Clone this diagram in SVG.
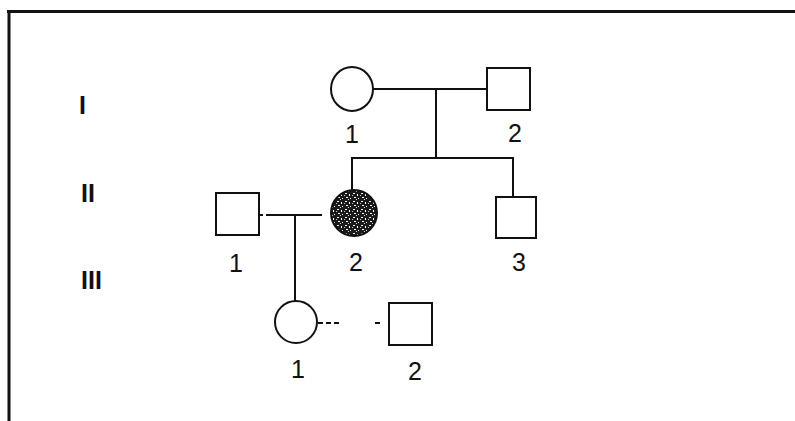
<svg xmlns="http://www.w3.org/2000/svg" width="795" height="421" viewBox="0 0 795 421">
  <style>
    .sym { fill: #fff; stroke: #111; stroke-width: 2; }
    .ln { fill: none; stroke: #111; stroke-width: 2; }
    .num { font-family: "Liberation Sans", Arial, sans-serif; font-size: 25px; fill: #111; text-anchor: middle; }
    .gen { font-family: "Liberation Sans", Arial, sans-serif; font-size: 25px; font-weight: bold; fill: #111; }
  </style>
  <defs>
    <!-- speckled shading for the affected individual -->
    <pattern id="speckle" width="8" height="8" patternUnits="userSpaceOnUse">
      <rect width="8" height="8" fill="#1a1a1a"/>
      <rect x="1" y="1" width="2" height="1" fill="#eee"/>
      <rect x="5" y="2" width="1" height="2" fill="#fff"/>
      <rect x="2" y="5" width="2" height="1" fill="#fff"/>
      <rect x="6" y="6" width="1" height="1" fill="#fff"/>
      <rect x="0" y="3" width="1" height="1" fill="#ccc"/>
      <rect x="4" y="7" width="1" height="1" fill="#ddd"/>
    </pattern>
  </defs>

  <rect width="795" height="421" fill="#fff"/>

  <!-- frame -->
  <path d="M7 11.5 H795 M9 11 V421" fill="none" stroke="#111" stroke-width="3"/>

  <!-- generation labels -->
  <text class="gen" x="79" y="114">I</text>
  <text class="gen" x="81" y="202">II</text>
  <text class="gen" x="81" y="289">III</text>

  <!-- connectors -->
  <g id="connectors">
    <path class="ln" d="M373 89 H487"/>
    <path class="ln" d="M436 89 V158"/>
    <path class="ln" d="M352 158 H513 M352 157 V191 M513 157 V197"/>
    <path class="ln" d="M260 215 H263 M266 215 H322"/>
    <path class="ln" d="M295 215 V302"/>
    <path class="ln" d="M318 323 H341" stroke-dasharray="5 3"/>
    <path class="ln" d="M375 323 H380"/>
  </g>

  <!-- generation I -->
  <g id="I-1">
    <ellipse class="sym" cx="352" cy="89" rx="21" ry="22"/>
    <text class="num" x="352" y="143">1</text>
  </g>
  <g id="I-2">
    <rect class="sym" x="487" y="68" width="43" height="42"/>
    <text class="num" x="515" y="142">2</text>
  </g>

  <!-- generation II -->
  <g id="II-1">
    <rect class="sym" x="216" y="193" width="43" height="42"/>
    <text class="num" x="236" y="272">1</text>
  </g>
  <g id="II-2">
    <circle cx="354" cy="213" r="23" fill="url(#speckle)" stroke="#111" stroke-width="2"/>
    <text class="num" x="356" y="271">2</text>
  </g>
  <g id="II-3">
    <rect class="sym" x="496" y="197" width="40" height="41"/>
    <text class="num" x="519" y="271">3</text>
  </g>

  <!-- generation III -->
  <g id="III-1">
    <circle class="sym" cx="296" cy="322" r="21"/>
    <text class="num" x="298" y="378">1</text>
  </g>
  <g id="III-2">
    <rect class="sym" x="389" y="303" width="43" height="42"/>
    <text class="num" x="415" y="380">2</text>
  </g>
</svg>
